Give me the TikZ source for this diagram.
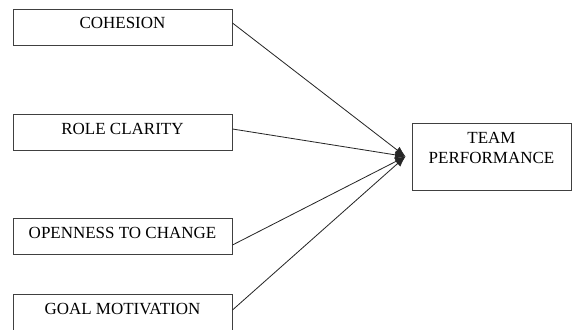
\documentclass[tikz,border=0pt]{standalone}
\usepackage{fontspec}
\setmainfont{Liberation Serif}
\usetikzlibrary{positioning,arrows.meta}

\begin{document}
\begin{tikzpicture}[x=0.03cm,y=0.03cm,
    factor/.style={draw=black!75, line width=0.8pt, minimum width=6.57cm,
      minimum height=1.08cm, inner sep=0pt, font=\fontsize{14.5}{17}\selectfont,
      text height=0.32cm, text depth=0.2cm},
    link/.style={draw=black!85, line width=0.7pt, -{Latex[length=9pt,width=7pt]}}]
  \useasboundingbox (0,0) rectangle (572,329);

  % the four factors
  \node [factor] (coh) at (122.5,302) {COHESION};
  \node [factor] (role) at (122.5,197) {ROLE CLARITY};
  \node [factor] (open) at (122.5,92.5) {OPENNESS TO CHANGE};
  \node [factor] (goal) at (122.5,17) {GOAL MOTIVATION};

  % outcome
  \node [factor, minimum width=4.77cm, minimum height=2.01cm, align=center,
    text height=0.92cm, text depth=0.52cm] (team) at (491.5,172.5) {TEAM\\PERFORMANCE};
  \coordinate (tip) at ([xshift=-0.18cm]team.west);

  \draw [link] ([yshift=0.12cm]coh.east) -- (tip);
  \draw [link] ([yshift=0.09cm]role.east) -- (tip);
  \draw [link] ([yshift=-0.255cm]open.east) -- (tip);
  \draw [link] ([yshift=0.06cm]goal.east) -- (tip);
\end{tikzpicture}
\end{document}
